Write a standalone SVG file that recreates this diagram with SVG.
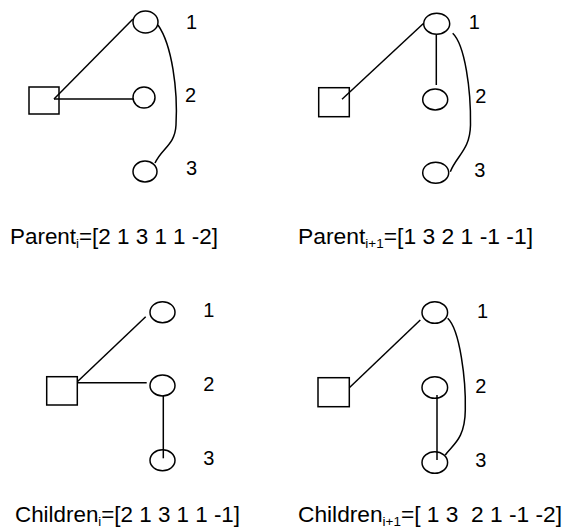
<svg xmlns="http://www.w3.org/2000/svg" width="565" height="531" viewBox="0 0 565 531">
<style>
.n{fill:none;stroke:#000;stroke-width:1.5}
.e{fill:none;stroke:#000;stroke-width:1.5}
.lbl{font-family:"Liberation Sans",Arial,sans-serif;font-size:20px;fill:#000}
.cap{font-family:"Liberation Sans",Arial,sans-serif;font-size:22px;fill:#000;white-space:pre}
.sub{font-size:13px}
</style>
<rect width="565" height="531" fill="#fff"/>
<g id="connectors">
<line class="e" x1="133" y1="19" x2="54" y2="99"/>
<line class="e" x1="54" y1="99" x2="133" y2="99"/>
<path class="e" d="M158,25 C172,45 178,90 176,125 C175,145 162,148 155,163"/>
<line class="e" x1="423.7" y1="23.3" x2="342" y2="99.3"/>
<line class="e" x1="436.3" y1="35" x2="436.3" y2="85"/>
<path class="e" d="M452.7,33.3 C465,45 471,90 470.5,125 C470,150 457,155 450.3,171.7"/>
<line class="e" x1="145.7" y1="316.7" x2="77.3" y2="381.7"/>
<line class="e" x1="77.3" y1="382.7" x2="146.7" y2="382.7"/>
<line class="e" x1="163.3" y1="395" x2="163.3" y2="458.3"/>
<line class="e" x1="420.3" y1="320" x2="349.3" y2="387.7"/>
<line class="e" x1="437" y1="395" x2="437" y2="460"/>
<path class="e" d="M447.7,318.3 C460,330 466,380 465.3,410 C465,440 452,445 445.3,455"/>
</g>
<g id="p1_root"><rect class="n" x="29" y="87" width="30" height="27"/></g>
<g id="p1_n1"><ellipse class="n" cx="145.5" cy="22" rx="12.5" ry="11"/><text class="lbl" x="186" y="29">1</text></g>
<g id="p1_n2"><ellipse class="n" cx="144" cy="97.5" rx="11" ry="10.5"/><text class="lbl" x="185" y="102">2</text></g>
<g id="p1_n3"><ellipse class="n" cx="145" cy="171.5" rx="12" ry="10.5"/><text class="lbl" x="186" y="175">3</text></g>
<g id="p2_root"><rect class="n" x="318.7" y="87.7" width="30.6" height="29"/></g>
<g id="p2_n1"><ellipse class="n" cx="436.7" cy="23.7" rx="13" ry="10.5"/><text class="lbl" x="468.7" y="29">1</text></g>
<g id="p2_n2"><ellipse class="n" cx="435.2" cy="99.5" rx="12.5" ry="10.5"/><text class="lbl" x="475.3" y="103">2</text></g>
<g id="p2_n3"><ellipse class="n" cx="435.7" cy="172.7" rx="13" ry="10.5"/><text class="lbl" x="474.3" y="176.7">3</text></g>
<g id="p3_root"><rect class="n" x="46.7" y="376.7" width="30.6" height="28.3"/></g>
<g id="p3_n1"><ellipse class="n" cx="162.5" cy="312.2" rx="12.5" ry="10.5"/><text class="lbl" x="203.3" y="316.7">1</text></g>
<g id="p3_n2"><ellipse class="n" cx="162.5" cy="385.5" rx="12.5" ry="10.5"/><text class="lbl" x="203.3" y="391">2</text></g>
<g id="p3_n3"><ellipse class="n" cx="162.5" cy="460.3" rx="12.5" ry="10.5"/><text class="lbl" x="203.3" y="465">3</text></g>
<g id="p4_root"><rect class="n" x="318" y="377.7" width="31.3" height="29"/></g>
<g id="p4_n1"><ellipse class="n" cx="434.8" cy="312.5" rx="12.8" ry="10.8"/><text class="lbl" x="477" y="317.7">1</text></g>
<g id="p4_n2"><ellipse class="n" cx="434.8" cy="387.5" rx="12.8" ry="10.8"/><text class="lbl" x="475.3" y="393.3">2</text></g>
<g id="p4_n3"><ellipse class="n" cx="434.8" cy="462.5" rx="12.8" ry="10.8"/><text class="lbl" x="475.3" y="466.7">3</text></g>
<g id="captions">
<text class="cap" x="10" y="244" textLength="208" lengthAdjust="spacingAndGlyphs">Parent<tspan class="sub" dy="4">i</tspan><tspan dy="-4">=[2 1 3 1 1 -2]</tspan></text>
<text class="cap" x="298" y="244" textLength="235" lengthAdjust="spacingAndGlyphs">Parent<tspan class="sub" dy="4">i+1</tspan><tspan dy="-4">=[1 3 2 1 -1 -1]</tspan></text>
<text class="cap" x="15" y="522" textLength="225" lengthAdjust="spacingAndGlyphs">Children<tspan class="sub" dy="4">i</tspan><tspan dy="-4">=[2 1 3 1 1 -1]</tspan></text>
<text class="cap" x="298" y="522" textLength="264" lengthAdjust="spacingAndGlyphs">Children<tspan class="sub" dy="4">i+1</tspan><tspan dy="-4">=[ 1 3  2 1 -1 -2]</tspan></text>
</g>
</svg>
